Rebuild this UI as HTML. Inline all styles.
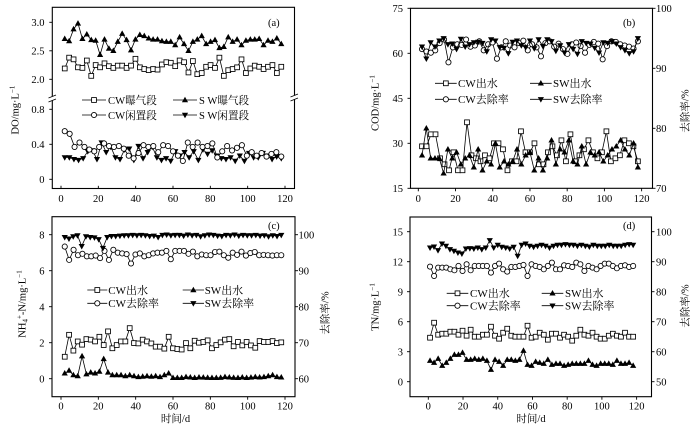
<!DOCTYPE html>
<html><head><meta charset="utf-8">
<style>
html,body{margin:0;padding:0;background:#fff;}
svg{display:block;}
text{font-family:"Liberation Serif","Noto Serif CJK SC",serif;fill:#000;}
</style></head><body>
<svg id="s" width="700" height="429" viewBox="0 0 700 429" xmlns="http://www.w3.org/2000/svg">
<rect width="700" height="429" fill="#fff"/>
<g id="axes"></g>
<g id="data"></g>
<g font-size="10.5">
<g text-anchor="middle">
<text x="61" y="201.8">0</text><text x="98.3" y="201.8">20</text><text x="135.7" y="201.8">40</text><text x="173" y="201.8">60</text><text x="210.3" y="201.8">80</text><text x="247.7" y="201.8">100</text><text x="285" y="201.8">120</text>
<text x="418.3" y="201.8">0</text><text x="455.5" y="201.8">20</text><text x="492.7" y="201.8">40</text><text x="530" y="201.8">60</text><text x="567.2" y="201.8">80</text><text x="604.4" y="201.8">100</text><text x="641.6" y="201.8">120</text>
<text x="61" y="409.5">0</text><text x="98.3" y="409.5">20</text><text x="135.7" y="409.5">40</text><text x="173" y="409.5">60</text><text x="210.3" y="409.5">80</text><text x="247.7" y="409.5">100</text><text x="285" y="409.5">120</text>
<text x="428.3" y="409.5">0</text><text x="463" y="409.5">20</text><text x="497.7" y="409.5">40</text><text x="532.5" y="409.5">60</text><text x="567.2" y="409.5">80</text><text x="601.9" y="409.5">100</text><text x="636.6" y="409.5">120</text>
</g>
<g text-anchor="end">
<text x="44.5" y="26">3.0</text><text x="44.5" y="54.5">2.5</text><text x="44.5" y="83">2.0</text><text x="44.5" y="113">0.8</text><text x="44.5" y="148">0.4</text><text x="44.5" y="183">0</text>
<text x="403" y="12">75</text><text x="403" y="57">60</text><text x="403" y="102">45</text><text x="403" y="147">30</text><text x="403" y="192">15</text>
<text x="44.5" y="238.4">8</text><text x="44.5" y="274.4">6</text><text x="44.5" y="310.4">4</text><text x="44.5" y="346.4">2</text><text x="44.5" y="382.4">0</text>
<text x="403" y="235.4">15</text><text x="403" y="265.4">12</text><text x="403" y="295.4">9</text><text x="403" y="325.4">6</text><text x="403" y="355.4">3</text><text x="403" y="385.4">0</text>
</g>
<g text-anchor="start">
<text x="656" y="12">100</text><text x="656" y="72">90</text><text x="656" y="132">80</text><text x="656" y="192">70</text>
<text x="298.5" y="238.4">100</text><text x="298.5" y="274.4">90</text><text x="298.5" y="310.4">80</text><text x="298.5" y="346.4">70</text><text x="298.5" y="382.4">60</text>
<text x="656" y="235.4">100</text><text x="656" y="265.4">90</text><text x="656" y="295.4">80</text><text x="656" y="325.4">70</text><text x="656" y="355.4">60</text><text x="656" y="385.4">50</text>
</g>
<text x="268" y="26">(a)</text>
<text x="623" y="26">(b)</text>
<text x="268" y="229">(c)</text>
<text x="623" y="229">(d)</text>
<g text-anchor="middle">
<text transform="translate(18.5,110) rotate(-90)">DO/mg·L<tspan font-size="7" dy="-4">−1</tspan></text>
<text transform="translate(378.5,103) rotate(-90)">COD/mg·L<tspan font-size="7" dy="-4">−1</tspan></text>
<text transform="translate(25.5,304) rotate(-90)">NH<tspan font-size="7" dy="2">4</tspan><tspan font-size="7" dy="-6">+</tspan><tspan dy="4">-N/mg·L</tspan><tspan font-size="7" dy="-4">−1</tspan></text>
<text transform="translate(378.5,307) rotate(-90)">TN/mg·L<tspan font-size="7" dy="-4">−1</tspan></text>
<text transform="translate(688.5,111) rotate(-90)">去除率/%</text>
<text transform="translate(328.5,313) rotate(-90)">去除率/%</text>
<text transform="translate(688.5,306) rotate(-90)">去除率/%</text>
<text x="175.5" y="422">时间/d</text>
<text x="531" y="422">时间/d</text>
</g>
</g>
<g font-size="10.6">
<text x="108" y="103.8">CW曝气段</text>
<text x="199" y="103.8">S W曝气段</text>
<text x="108" y="118.8">CW闲置段</text>
<text x="199" y="118.8">S W闲置段</text>
</g>
<g font-size="11">
<text x="458" y="87.1">CW出水</text>
<text x="553" y="87.1">SW出水</text>
<text x="458" y="103.1">CW去除率</text>
<text x="553" y="103.1">SW去除率</text>
<text x="108.3" y="293.8">CW出水</text>
<text x="204.7" y="293.8">SW出水</text>
<text x="108.3" y="307.1">CW去除率</text>
<text x="204.7" y="307.1">SW去除率</text>
<text x="470" y="297.1">CW出水</text>
<text x="565" y="297.1">SW出水</text>
<text x="470" y="309.5">CW去除率</text>
<text x="565" y="309.5">SW去除率</text>
</g>
</svg>
<script>
(function(){
const NS="http://www.w3.org/2000/svg";
const gA=document.getElementById('axes'), gD=document.getElementById('data');
function el(tag,attrs,parent){const e=document.createElementNS(NS,tag);for(const k in attrs)e.setAttribute(k,attrs[k]);(parent||gD).appendChild(e);return e;}
function line(x1,y1,x2,y2,w,p){el('line',{x1:x1,y1:y1,x2:x2,y2:y2,stroke:'#000','stroke-width':w||0.9},p||gA);}
function box(x,y,w,h){el('rect',{x:x,y:y,width:w,height:h,fill:'none',stroke:'#000','stroke-width':1.1},gA);}
function marker(t,x,y,p){
  p=p||gD;
  if(t==='sq') el('rect',{x:x-2.4,y:y-2.4,width:4.8,height:4.8,fill:'#fff',stroke:'#000','stroke-width':0.85},p);
  else if(t==='ci') el('circle',{cx:x,cy:y,r:2.6,fill:'#fff',stroke:'#000','stroke-width':0.85},p);
  else if(t==='tu') el('path',{d:'M'+x+','+(y-3.3)+'L'+(x+3.1)+','+(y+2.2)+'L'+(x-3.1)+','+(y+2.2)+'Z',fill:'#000'},p);
  else if(t==='td') el('path',{d:'M'+x+','+(y+3.3)+'L'+(x+3.1)+','+(y-2.2)+'L'+(x-3.1)+','+(y-2.2)+'Z',fill:'#000'},p);
}
function series(vals,d0,d1,X,Y,t){
  const n=vals.length;
  const pts=vals.map((v,i)=>[X(d0+(d1-d0)*i/(n-1)),Y(v)]);
  el('polyline',{points:pts.map(p=>p[0].toFixed(1)+','+p[1].toFixed(1)).join(' '),fill:'none',stroke:'#000','stroke-width':0.8});
  pts.forEach(p=>marker(t,p[0],p[1]));
}
function leg(x1,x2,y,t){line(x1,y,x2,y,0.85,gD);marker(t,(x1+x2)/2,y);}

/* Panel a */
box(52.3,7.3,242.2,181.2);
[22.3,50.8,79.3,109.3,144.3,179.3].forEach(y=>line(49.3,y,52.3,y));
for(let d=0;d<=120;d+=20){const x=61+d*1.8667;line(x,188.5,x,185.8);}
el('rect',{x:48,y:96.5,width:8,height:4,fill:'#fff'},gA);
el('rect',{x:290.5,y:95.5,width:8,height:4,fill:'#fff'},gA);
line(48.5,98,56,95,0.8);line(48.5,102,56,99,0.8);
line(290.5,97,298,94,0.8);line(290.5,101,298,98,0.8);
const Xa=d=>61+d*1.8667, Yau=v=>79.3-(v-2.0)*57, Yal=v=>179.3-v*87.5;
series([2.71,2.67,2.88,2.98,2.71,2.79,2.69,2.68,2.43,2.70,2.54,2.50,2.66,2.80,2.69,2.51,2.70,2.78,2.76,2.72,2.70,2.70,2.67,2.66,2.66,2.60,2.74,2.62,2.50,2.66,2.70,2.76,2.62,2.66,2.69,2.55,2.57,2.74,2.66,2.70,2.60,2.68,2.70,2.70,2.71,2.60,2.68,2.66,2.72,2.62],2,118,Xa,Yau,'tu');
series([2.19,2.38,2.35,2.21,2.20,2.33,2.06,2.25,2.21,2.28,2.23,2.20,2.24,2.24,2.20,2.24,2.36,2.21,2.18,2.16,2.18,2.17,2.26,2.30,2.29,2.23,2.33,2.30,2.12,2.32,2.09,2.11,2.22,2.25,2.20,2.38,2.06,2.16,2.18,2.21,2.35,2.11,2.19,2.24,2.22,2.18,2.22,2.25,2.11,2.22],2,118,Xa,Yau,'sq');
series([0.25,0.25,0.23,0.22,0.24,0.32,0.33,0.23,0.42,0.31,0.37,0.25,0.23,0.34,0.35,0.22,0.38,0.24,0.31,0.37,0.25,0.22,0.24,0.21,0.32,0.27,0.31,0.25,0.32,0.22,0.34,0.29,0.33,0.27,0.24,0.23,0.25,0.21,0.27,0.21,0.30,0.25,0.25,0.30,0.27,0.23,0.26,0.24],2,118,Xa,Yal,'td');
series([0.55,0.52,0.37,0.42,0.37,0.34,0.32,0.37,0.41,0.38,0.37,0.38,0.35,0.27,0.24,0.30,0.39,0.37,0.38,0.31,0.39,0.38,0.32,0.27,0.21,0.42,0.37,0.42,0.37,0.38,0.41,0.25,0.32,0.38,0.33,0.36,0.39,0.27,0.31,0.27,0.30,0.26,0.29,0.31,0.26],2,118,Xa,Yal,'ci');
leg(82,106,100,'sq');leg(82,106,115,'ci');leg(173,197,100,'tu');leg(173,197,115,'td');

/* Panel b */
box(410.5,8.3,242,180);
[8.3,53.3,98.3,143.3,188.3].forEach(y=>line(407.5,y,410.5,y));
[8.3,68.3,128.3,188.3].forEach(y=>line(652.5,y,655.5,y));
for(let d=0;d<=120;d+=20){const x=418.3+d*1.861;line(x,188.3,x,191.3);}
const Xb=d=>418.3+d*1.861, YbL=v=>188.3-(v-15)*3, YbR=p=>188.3-(p-70)*6;
series([29,29,33,33,25,23,21,27,21,21,37,26,25,24,26,25,30,30,28,21,24,24,34,27,27,30,23,23,27,29,26,31,24,33,24,26,28,31,27,25,27,34,24,25,26,31,30,29,24],2,118,Xb,YbL,'sq');
series([26,35,25,25,25,20,28,25,27,23,25,26,22,28,21,24,23,30,22,24,23,24,28,23,26,27,21,25,21,25,31,23,28,27,31,24,23,29,23,27,26,27,24,26,28,29,31,28,26,30,22],2,118,Xb,YbL,'tu');
series([93.2,92.8,92.6,93.0,94.2,94.8,91.0,93.5,94.0,93.9,94.8,93.6,93.8,94.5,93.0,94.0,94.3,91.6,93.5,94.5,93.8,93.5,94.2,94.6,93.0,94.0,93.5,92.0,94.2,94.5,93.6,94.1,93.2,92.4,94.0,94.3,93.7,92.6,93.9,94.4,94.1,91.5,93.7,94.5,94.4,94.0,93.8,93.6,93.3,94.5],2,118,Xb,YbR,'ci');
series([93.6,91.6,94.3,93.6,94.6,95.0,94.0,94.1,93.2,94.9,93.6,94.0,94.3,94.4,94.2,92.8,94.8,94.6,93.5,93.4,92.5,94.4,94.6,93.8,93.5,94.6,93.3,94.8,93.7,94.8,94.5,92.9,93.8,92.6,94.0,93.2,92.4,94.5,94.2,94.1,93.4,92.6,94.3,94.2,94.5,94.1,93.5,93.0,92.5,92.8,95.0],2,118,Xb,YbR,'td');
leg(435,456.7,83.3,'sq');leg(435,456.7,99.3,'ci');leg(530,551.7,83.3,'tu');leg(530,551.7,99.3,'td');

/* Panel c */
box(52,216.7,243,180);
[234.7,270.7,306.7,342.7,378.7].forEach(y=>{line(49,y,52,y);line(295,y,298,y);});
for(let d=0;d<=120;d+=20){const x=61+d*1.8667;line(x,396.7,x,399.7);}
const Xc=d=>61+d*1.8667, YcL=v=>378.7-v*18, YcR=p=>378.7-(p-60)*3.6;
series([1.22,2.44,1.56,2.07,1.89,2.2,2.17,2.07,2.33,1.87,2.63,1.69,1.87,2.07,2.07,2.81,1.98,1.96,2.17,2.07,1.96,1.78,1.78,1.67,2.33,1.69,1.65,1.62,1.98,1.69,2.11,2.0,2.04,2.13,1.69,1.87,2.02,2.17,2.2,1.8,2.04,1.85,2.04,1.85,1.72,2.09,2.04,2.04,2.09,1.98,2.02],2,118,Xc,YcL,'sq');
series([0.3,0.45,0.2,0.15,1.25,0.25,0.35,0.3,0.4,1.1,0.35,0.2,0.2,0.2,0.15,0.2,0.15,0.1,0.12,0.15,0.12,0.15,0.1,0.2,0.3,0.05,0.05,0.05,0.1,0.08,0.05,0.08,0.07,0.06,0.05,0.05,0.06,0.1,0.08,0.06,0.05,0.08,0.05,0.07,0.1,0.08,0.1,0.15,0.2,0.1,0.08],2,118,Xc,YcL,'tu');
series([96.7,93.0,95.8,94.3,94.7,94.0,94.0,94.2,93.5,95.5,93.0,95.8,95.0,94.8,94.6,92.0,94.5,94.8,94.0,94.3,94.8,95.0,95.0,95.5,93.2,95.5,95.5,95.5,94.7,95.3,94.0,94.5,94.3,94.3,95.2,95.3,94.3,93.6,95.0,94.4,95.3,94.2,94.9,95.2,94.3,94.4,94.3,94.2,94.3,94.3],2,118,Xc,YcR,'ci');
series([99.3,98.9,99.5,99.8,96.8,99.5,99.3,99.2,98.7,96.3,99.3,99.6,99.6,99.7,99.8,99.8,99.9,99.8,99.9,99.8,99.6,99.7,99.3,99.9,100,99.8,99.9,99.9,99.7,100,99.8,99.9,99.5,99.8,100,99.9,99.7,99.6,99.9,99.8,100,99.7,99.9,99.8,99.8,99.9,99.7,99.8,99.5,99.8,99.6,99.9],2,118,Xc,YcR,'td');
leg(87.3,107.3,290,'sq');leg(87.3,107.3,303.3,'ci');leg(182.7,204,290,'tu');leg(182.7,204,303.3,'td');

/* Panel d */
box(410,217,241.5,179.7);
[231.7,261.7,291.7,321.7,351.7,381.7].forEach(y=>{line(407,y,410,y);line(651.5,y,654.5,y);});
for(let d=0;d<=120;d+=20){const x=428.3+d*1.736;line(x,396.7,x,399.7);}
const Xd=d=>428.3+d*1.736, YdL=v=>381.7-v*10, YdR=p=>381.7-(p-50)*3;
const zy2p=z=>100-(z-52)/9.02;
series([4.4,5.9,4.7,4.8,4.8,5.0,5.0,4.7,5.1,4.6,5.2,4.5,4.5,4.7,4.7,5.5,4.6,4.3,4.9,5.3,4.6,4.5,4.5,4.5,5.6,4.4,4.5,4.9,4.7,4.2,4.8,4.8,4.4,4.7,4.5,4.1,4.6,5.2,4.7,4.6,4.9,4.5,4.3,4.3,4.6,4.8,4.6,4.5,4.9,4.5,4.5],1,118,Xd,YdL,'sq');
series([2.1,1.9,2.3,1.6,1.9,2.3,2.7,2.7,2.9,2.2,2.2,2.3,2.2,2.3,2.1,1.2,2.2,2.0,1.6,2.2,2.2,2.1,2.2,3.1,1.7,1.6,2.0,1.9,1.8,2.2,1.7,1.8,1.8,1.6,1.7,1.8,1.8,1.8,1.8,2.1,1.7,1.6,1.8,1.8,1.8,1.7,2.1,1.8,1.8,1.9,1.6],1,118,Xd,YdL,'tu');
series([157,185,160,160,160,165,168,155,170,150,168,155,155,155,155,175,155,148,165,172,158,158,155,152,185,150,155,158,165,155,145,165,165,153,155,158,145,150,170,155,160,165,155,148,148,155,162,155,153,158,155].map(zy2p),1,118,Xd,YdR,'ci');
series([100,97,108,88,95,105,110,115,118,103,102,103,100,105,100,78,100,92,98,100,103,98,125,92,88,95,98,95,92,95,100,95,92,92,90,92,92,95,92,95,97,92,95,95,95,92,95,95,95,92,90,92].map(zy2p),1,118,Xd,YdR,'td');
leg(446.7,468.3,293.3,'sq');leg(446.7,468.3,305.7,'ci');leg(541.7,563.3,293.3,'tu');leg(541.7,563.3,305.7,'td');
})();
</script>
</body></html>
